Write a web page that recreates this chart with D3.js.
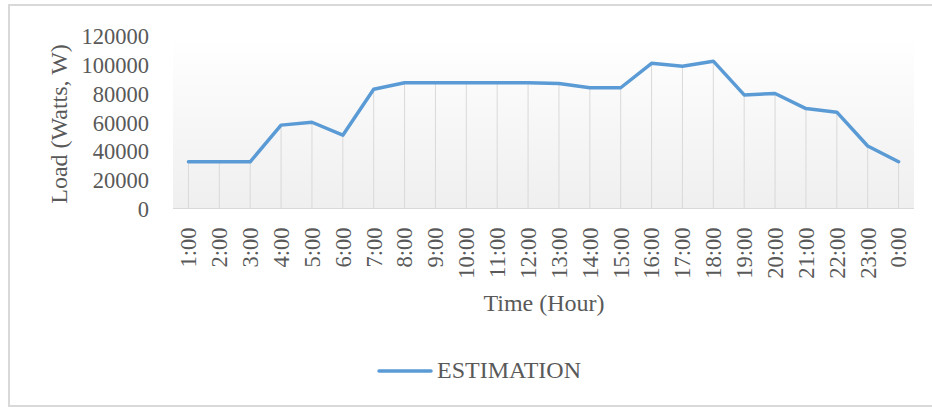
<!DOCTYPE html>
<html>
<head>
<meta charset="utf-8">
<script src="https://cdn.jsdelivr.net/npm/d3@7"></script>
<style>
  body { margin: 0; background: #fff; }
  svg { display: block; font-family: "Liberation Serif", "Times New Roman", serif; }
</style>
</head>
<body>
<svg width="932" height="407"></svg>
<script>
// Hourly load estimation (W)
const hours = ["1:00","2:00","3:00","4:00","5:00","6:00","7:00","8:00","9:00","10:00","11:00","12:00",
               "13:00","14:00","15:00","16:00","17:00","18:00","19:00","20:00","21:00","22:00","23:00","0:00"];
const estimation = [32500,32500,32500,58000,60000,51000,83000,87500,87500,87500,87500,87500,
                    87000,84000,84000,101000,99000,102500,79000,80000,69500,67000,43500,32500];
const yTicks = [0,20000,40000,60000,80000,100000,120000];
const seriesName = "ESTIMATION";

const svg = d3.select("svg");
const textColor = "#595959";

// chart border
svg.append("rect")
    .attr("x", 9).attr("y", 5)
    .attr("width", 940).attr("height", 401)
    .attr("fill", "#fff")
    .attr("stroke", "#d9d9d9")
    .attr("stroke-width", 2);

const plot = { left: 173, right: 914, top: 36, bottom: 208.5 };

const x = d3.scaleBand()
    .domain(hours)
    .range([plot.left, plot.right]);

const y = d3.scaleLinear()
    .domain([0, 120000])
    .range([plot.bottom, plot.top]);

// plot area gradient
const defs = svg.append("defs");
const grad = defs.append("linearGradient")
    .attr("id", "plotGrad")
    .attr("x1", 0).attr("y1", 0).attr("x2", 0).attr("y2", 1);
grad.append("stop").attr("offset", "0%").attr("stop-color", "#ffffff");
grad.append("stop").attr("offset", "100%").attr("stop-color", "#efefef");

svg.append("rect")
    .attr("x", plot.left).attr("y", plot.top)
    .attr("width", plot.right - plot.left)
    .attr("height", plot.bottom - plot.top)
    .attr("fill", "url(#plotGrad)");

const cx = d => x(d) + x.bandwidth() / 2;

// drop lines
svg.append("g")
    .selectAll("line")
    .data(hours)
    .join("line")
    .attr("x1", cx).attr("x2", cx)
    .attr("y1", (d, i) => y(estimation[i]))
    .attr("y2", plot.bottom)
    .attr("stroke", "#d9d9d9")
    .attr("stroke-width", 1);

// x axis line
svg.append("line")
    .attr("x1", plot.left).attr("x2", plot.right)
    .attr("y1", plot.bottom).attr("y2", plot.bottom)
    .attr("stroke", "#d9d9d9")
    .attr("stroke-width", 1);

// y axis
const yAxis = svg.append("g")
    .attr("transform", `translate(${plot.left - 24},0)`)
    .call(d3.axisLeft(y).tickValues(yTicks).tickSize(0).tickFormat(d3.format("d")));
yAxis.select(".domain").remove();
yAxis.selectAll("text")
    .attr("x", 0)
    .attr("dy", "0.35em")
    .style("font-family", "Liberation Serif")
    .style("font-size", "22.5px")
    .attr("fill", textColor);

// x axis labels (rotated)
const xAxis = svg.append("g")
    .attr("transform", `translate(0,${plot.bottom})`)
    .call(d3.axisBottom(x).tickSize(0));
xAxis.select(".domain").remove();
xAxis.selectAll("text")
    .attr("transform", "rotate(-90)")
    .attr("x", -19)
    .attr("y", 0)
    .attr("dy", "0.35em")
    .attr("text-anchor", "end")
    .style("font-family", "Liberation Serif")
    .style("font-size", "22.5px")
    .attr("fill", textColor);

// line
const line = d3.line()
    .x((d, i) => cx(hours[i]))
    .y(d => y(d));

svg.append("path")
    .datum(estimation)
    .attr("d", line)
    .attr("fill", "none")
    .attr("stroke", "#5b9bd5")
    .attr("stroke-width", 3.5)
    .attr("stroke-linejoin", "round")
    .attr("stroke-linecap", "round");

// axis titles
svg.append("text")
    .attr("transform", `translate(67,124) rotate(-90)`)
    .attr("text-anchor", "middle")
    .style("font-size", "24px")
    .attr("fill", textColor)
    .text("Load (Watts, W)");

svg.append("text")
    .attr("x", 544).attr("y", 311)
    .attr("text-anchor", "middle")
    .style("font-size", "24px")
    .attr("fill", textColor)
    .text("Time (Hour)");

// legend
const legend = svg.append("g");
legend.append("line")
    .attr("x1", 379).attr("x2", 431)
    .attr("y1", 371).attr("y2", 371)
    .attr("stroke", "#5b9bd5")
    .attr("stroke-width", 3.5)
    .attr("stroke-linecap", "round");
legend.append("text")
    .attr("x", 437).attr("y", 378)
    .style("font-size", "24px")
    .attr("fill", textColor)
    .text(seriesName);
</script>
</body>
</html>
